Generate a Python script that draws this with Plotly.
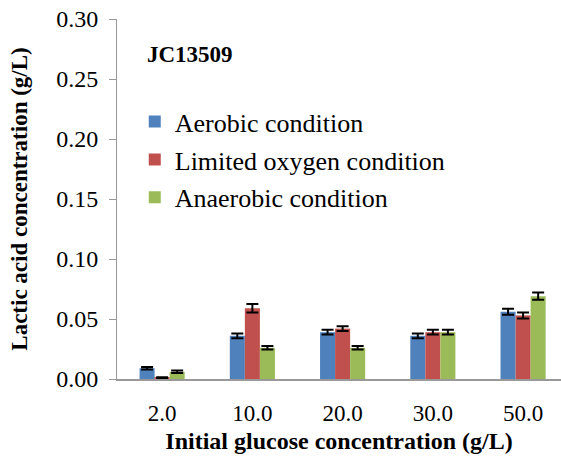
import plotly.graph_objects as go

categories = ["2.0", "10.0", "20.0", "30.0", "50.0"]
aerobic = [0.009, 0.036, 0.039, 0.036, 0.056]
aerobic_err = [0.001, 0.002, 0.002, 0.002, 0.0025]
limited = [0.001, 0.059, 0.042, 0.039, 0.053]
limited_err = [0.0005, 0.0035, 0.002, 0.002, 0.0025]
anaerobic = [0.006, 0.026, 0.026, 0.039, 0.069]
anaerobic_err = [0.001, 0.0015, 0.0015, 0.002, 0.003]

names = ["Aerobic condition", "Limited oxygen condition", "Anaerobic condition"]
colors = ["#4F81BD", "#C0504D", "#9BBB59"]
series = [(aerobic, aerobic_err), (limited, limited_err), (anaerobic, anaerobic_err)]

fig = go.Figure()
for i, ((vals, errs), name, col) in enumerate(zip(series, names, colors)):
    fig.add_trace(go.Bar(
        x=categories, y=vals, name=name, legendgroup=f"g{i}",
        marker=dict(color=col, line=dict(width=0)),
        error_y=dict(type="data", array=errs, visible=True, color="black", thickness=2, width=6),
    ))

serif = "Liberation Serif, serif"
fig.update_layout(
    width=561, height=461,
    margin=dict(l=117, r=0, t=19, b=82),
    paper_bgcolor="white", plot_bgcolor="white",
    barmode="group", bargap=0.5, bargroupgap=0,
    font=dict(family=serif, color="black"),
    showlegend=True,
    legend=dict(x=0.04, y=0.78, xanchor="left", yanchor="top",
                font=dict(size=26, family=serif), bgcolor="rgba(0,0,0,0)",
                tracegroupgap=1, traceorder="grouped", itemsizing="constant"),
    xaxis=dict(range=[-0.5, 4.42], showline=True, linecolor="#999999", linewidth=2,
               ticks="", tickfont=dict(size=23, family=serif), ticklabelstandoff=12,
               title=dict(text="<b>Initial glucose concentration (g/L)</b>",
                          font=dict(size=24, family=serif), standoff=8)),
    yaxis=dict(range=[0, 0.30], dtick=0.05, tickformat=".2f", showline=True,
               linecolor="#999999", linewidth=1, ticks="outside", ticklen=7,
               tickcolor="#999999", showgrid=False, zeroline=False,
               tickfont=dict(size=24, family=serif), ticklabelstandoff=6,
               title=dict(text="<b>Lactic acid concentration (g/L)</b>",
                          font=dict(size=23, family=serif), standoff=22)),
    annotations=[dict(text="<b>JC13509</b>", x=0.063, y=0.9, xref="paper", yref="paper",
                      xanchor="left", yanchor="middle", showarrow=False,
                      font=dict(size=23, family=serif))],
)
fig.write_html("out.html")
